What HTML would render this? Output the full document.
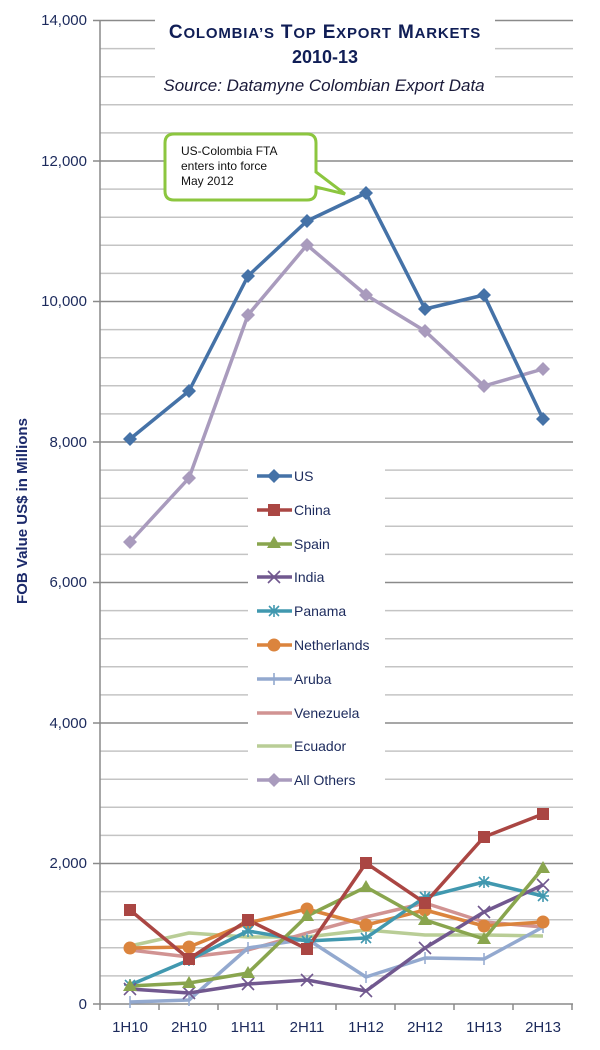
<!DOCTYPE html>
<html><head><meta charset="utf-8"><style>
html,body{margin:0;padding:0;background:#fff;}
svg{display:block;font-family:"Liberation Sans",sans-serif;}
</style></head><body>
<svg width="600" height="1050" viewBox="0 0 600 1050" xmlns="http://www.w3.org/2000/svg">
<defs>
<path id="dia" d="M0,-7 L7,0 L0,7 L-7,0Z"/>
<path id="sq" d="M-6,-6 H6 V6 H-6Z"/>
<path id="tri" d="M0,-7 L7,5 L-7,5Z"/>
<circle id="circ" r="6.5"/>
</defs>
<rect width="600" height="1050" fill="#fff"/>
<g stroke="#c4c4c4" stroke-width="1.5">
<line x1="100" x2="573" y1="48.6" y2="48.6"/><line x1="100" x2="573" y1="76.7" y2="76.7"/><line x1="100" x2="573" y1="104.8" y2="104.8"/><line x1="100" x2="573" y1="132.9" y2="132.9"/>
<line x1="100" x2="573" y1="189.1" y2="189.1"/><line x1="100" x2="573" y1="217.2" y2="217.2"/><line x1="100" x2="573" y1="245.3" y2="245.3"/><line x1="100" x2="573" y1="273.4" y2="273.4"/>
<line x1="100" x2="573" y1="329.6" y2="329.6"/><line x1="100" x2="573" y1="357.7" y2="357.7"/><line x1="100" x2="573" y1="385.8" y2="385.8"/><line x1="100" x2="573" y1="413.9" y2="413.9"/>
<line x1="100" x2="573" y1="470.1" y2="470.1"/><line x1="100" x2="573" y1="498.2" y2="498.2"/><line x1="100" x2="573" y1="526.3" y2="526.3"/><line x1="100" x2="573" y1="554.4" y2="554.4"/>
<line x1="100" x2="573" y1="610.6" y2="610.6"/><line x1="100" x2="573" y1="638.7" y2="638.7"/><line x1="100" x2="573" y1="666.8" y2="666.8"/><line x1="100" x2="573" y1="694.9" y2="694.9"/>
<line x1="100" x2="573" y1="751.1" y2="751.1"/><line x1="100" x2="573" y1="779.2" y2="779.2"/><line x1="100" x2="573" y1="807.3" y2="807.3"/><line x1="100" x2="573" y1="835.4" y2="835.4"/>
<line x1="100" x2="573" y1="891.6" y2="891.6"/><line x1="100" x2="573" y1="919.7" y2="919.7"/><line x1="100" x2="573" y1="947.8" y2="947.8"/><line x1="100" x2="573" y1="975.9" y2="975.9"/>
</g>
<g stroke="#8a8a8a" stroke-width="1.5">
<line x1="93" x2="573" y1="20.5" y2="20.5"/><line x1="93" x2="573" y1="161" y2="161"/><line x1="93" x2="573" y1="301.5" y2="301.5"/><line x1="93" x2="573" y1="442" y2="442"/>
<line x1="93" x2="573" y1="582.5" y2="582.5"/><line x1="93" x2="573" y1="723" y2="723"/><line x1="93" x2="573" y1="863.5" y2="863.5"/><line x1="93" x2="573" y1="1004" y2="1004"/>
<line x1="100" x2="100" y1="20" y2="1004"/>
<line x1="100" x2="100" y1="1004" y2="1010"/><line x1="159" x2="159" y1="1004" y2="1010"/><line x1="218" x2="218" y1="1004" y2="1010"/><line x1="277" x2="277" y1="1004" y2="1010"/><line x1="336" x2="336" y1="1004" y2="1010"/><line x1="395" x2="395" y1="1004" y2="1010"/><line x1="454" x2="454" y1="1004" y2="1010"/><line x1="513" x2="513" y1="1004" y2="1010"/><line x1="572" x2="572" y1="1004" y2="1010"/>
</g>
<rect x="155" y="19" width="340" height="81" fill="#fff"/>
<rect x="248" y="456" width="137" height="340" fill="#fff"/>
<g fill="#1c2a5c" font-size="15" text-anchor="end">
<text x="87" y="25">14,000</text><text x="87" y="166">12,000</text><text x="87" y="306">10,000</text><text x="87" y="447">8,000</text>
<text x="87" y="587">6,000</text><text x="87" y="728">4,000</text><text x="87" y="868">2,000</text><text x="87" y="1009">0</text>
</g>
<g fill="#1c2a5c" font-size="15" text-anchor="middle">
<text x="130" y="1032">1H10</text><text x="189" y="1032">2H10</text><text x="248" y="1032">1H11</text><text x="307" y="1032">2H11</text><text x="366" y="1032">1H12</text><text x="425" y="1032">2H12</text><text x="484" y="1032">1H13</text><text x="543" y="1032">2H13</text>
</g>
<text transform="translate(27,511) rotate(-90)" text-anchor="middle" fill="#1c2a6b" font-size="15" font-weight="bold">FOB Value US$ in Millions</text>
<g fill="#101e56" text-anchor="middle">
<text x="325" y="38" font-size="19" font-weight="bold" letter-spacing="0.8">C<tspan font-size="15">OLOMBIA’S</tspan> T<tspan font-size="15">OP</tspan> E<tspan font-size="15">XPORT</tspan> M<tspan font-size="15">ARKETS</tspan></text>
<text x="325" y="63" font-size="18" font-weight="bold">2010-13</text>
<text x="324" y="91" font-size="17" font-style="italic" fill="#1a1a3a">Source: Datamyne Colombian Export Data</text>
</g>
<g stroke-width="3.5" fill="none" stroke-linejoin="round">
<polyline stroke="#b9cd96" points="130,946 189,933 248,937 307,937 366,930 425,935 484,935 543,936"/>
<polyline stroke="#d19392" points="130,950 189,957 248,950 307,933 366,917 425,903 484,922 543,927"/>
<polyline stroke="#93a9cf" points="130,1002 189,1000 248,948 307,939 366,977 425,958 484,959 543,927"/>
<polyline stroke="#db843d" points="130,948 189,947 248,923 307,909 366,925 425,910 484,926 543,922"/>
<polyline stroke="#4198af" points="130,985 189,960 248,931 307,941 366,938 425,897 484,882 543,896"/>
<polyline stroke="#71588f" points="130,989 189,993 248,984 307,980 366,991 425,948 484,912 543,885"/>
<polyline stroke="#89a54e" points="130,986 189,983 248,973 307,916 366,887 425,920 484,939 543,868"/>
<polyline stroke="#aa4643" points="130,910 189,959 248,920 307,949 366,863 425,903 484,837 543,814"/>
<polyline stroke="#a99bbd" points="130,542 189,478 248,315 307,245 366,295 425,331 484,386 543,369"/>
<polyline stroke="#4572a7" points="130,439 189,391 248,276 307,221 366,193 425,309 484,295 543,419"/>
</g>
<g stroke="#93a9cf" stroke-width="1.5">
<path d="M130,996v12M189,994v12M248,942v12M307,933v12M366,971v12M425,952v12M484,953v12M543,921v12"/>
</g>
<g fill="#db843d"><use href="#circ" x="130" y="948"/><use href="#circ" x="189" y="947"/><use href="#circ" x="248" y="923"/><use href="#circ" x="307" y="909"/><use href="#circ" x="366" y="925"/><use href="#circ" x="425" y="910"/><use href="#circ" x="484" y="926"/><use href="#circ" x="543" y="922"/></g>
<g stroke="#4198af" stroke-width="1.6"><path d="M124,985h12M130,979v12M125,980l10,10M135,980l-10,10 M183,960h12M189,954v12M184,955l10,10M194,955l-10,10 M242,931h12M248,925v12M243,926l10,10M253,926l-10,10 M301,941h12M307,935v12M302,936l10,10M312,936l-10,10 M360,938h12M366,932v12M361,933l10,10M371,933l-10,10 M419,897h12M425,891v12M420,892l10,10M430,892l-10,10 M478,882h12M484,876v12M479,877l10,10M489,877l-10,10 M537,896h12M543,890v12M538,891l10,10M548,891l-10,10"/></g>
<g stroke="#71588f" stroke-width="1.6"><path d="M124,983l12,12M136,983l-12,12 M183,987l12,12M195,987l-12,12 M242,978l12,12M254,978l-12,12 M301,974l12,12M313,974l-12,12 M360,985l12,12M372,985l-12,12 M419,942l12,12M431,942l-12,12 M478,906l12,12M490,906l-12,12 M537,879l12,12M549,879l-12,12"/></g>
<g fill="#89a54e"><use href="#tri" x="130" y="986"/><use href="#tri" x="189" y="983"/><use href="#tri" x="248" y="973"/><use href="#tri" x="307" y="916"/><use href="#tri" x="366" y="887"/><use href="#tri" x="425" y="920"/><use href="#tri" x="484" y="939"/><use href="#tri" x="543" y="868"/></g>
<g fill="#aa4643"><use href="#sq" x="130" y="910"/><use href="#sq" x="189" y="959"/><use href="#sq" x="248" y="920"/><use href="#sq" x="307" y="949"/><use href="#sq" x="366" y="863"/><use href="#sq" x="425" y="903"/><use href="#sq" x="484" y="837"/><use href="#sq" x="543" y="814"/></g>
<g fill="#a99bbd"><use href="#dia" x="130" y="542"/><use href="#dia" x="189" y="478"/><use href="#dia" x="248" y="315"/><use href="#dia" x="307" y="245"/><use href="#dia" x="366" y="295"/><use href="#dia" x="425" y="331"/><use href="#dia" x="484" y="386"/><use href="#dia" x="543" y="369"/></g>
<g fill="#4572a7"><use href="#dia" x="130" y="439"/><use href="#dia" x="189" y="391"/><use href="#dia" x="248" y="276"/><use href="#dia" x="307" y="221"/><use href="#dia" x="366" y="193"/><use href="#dia" x="425" y="309"/><use href="#dia" x="484" y="295"/><use href="#dia" x="543" y="419"/></g>
<path d="M174,134 H307 Q316,134 316,143 V172 L345,194 L316,187 V191 Q316,200 307,200 H174 Q165,200 165,191 V143 Q165,134 174,134Z" fill="#fff" stroke="#8cc63f" stroke-width="3"/>
<g font-size="12" fill="#111"><text x="181" y="155">US-Colombia FTA</text><text x="181" y="170">enters into force</text><text x="181" y="185">May 2012</text></g>
<g stroke-width="3.5">
<line x1="257" x2="292" y1="476" y2="476" stroke="#4572a7"/>
<line x1="257" x2="292" y1="510" y2="510" stroke="#aa4643"/>
<line x1="257" x2="292" y1="544" y2="544" stroke="#89a54e"/>
<line x1="257" x2="292" y1="577" y2="577" stroke="#71588f"/>
<line x1="257" x2="292" y1="611" y2="611" stroke="#4198af"/>
<line x1="257" x2="292" y1="645" y2="645" stroke="#db843d"/>
<line x1="257" x2="292" y1="679" y2="679" stroke="#93a9cf"/>
<line x1="257" x2="292" y1="713" y2="713" stroke="#d19392"/>
<line x1="257" x2="292" y1="746" y2="746" stroke="#b9cd96"/>
<line x1="257" x2="292" y1="780" y2="780" stroke="#a99bbd"/>
</g>
<use href="#dia" x="274" y="476" fill="#4572a7"/>
<use href="#sq" x="274" y="510" fill="#aa4643"/>
<use href="#tri" x="274" y="543" fill="#89a54e"/>
<path d="M268,571l12,12M280,571l-12,12" stroke="#71588f" stroke-width="1.6"/>
<path d="M268,611h12M274,605v12M269,606l10,10M279,606l-10,10" stroke="#4198af" stroke-width="1.6"/>
<use href="#circ" x="274" y="645" fill="#db843d"/>
<path d="M274,673v12" stroke="#93a9cf" stroke-width="1.6"/>
<use href="#dia" x="274" y="780" fill="#a99bbd"/>
<g font-size="14" fill="#1c2a5c">
<text x="294" y="481">US</text><text x="294" y="515">China</text><text x="294" y="549">Spain</text><text x="294" y="582">India</text><text x="294" y="616">Panama</text><text x="294" y="650">Netherlands</text><text x="294" y="684">Aruba</text><text x="294" y="718">Venezuela</text><text x="294" y="751">Ecuador</text><text x="294" y="785">All Others</text>
</g>
</svg>
</body></html>
